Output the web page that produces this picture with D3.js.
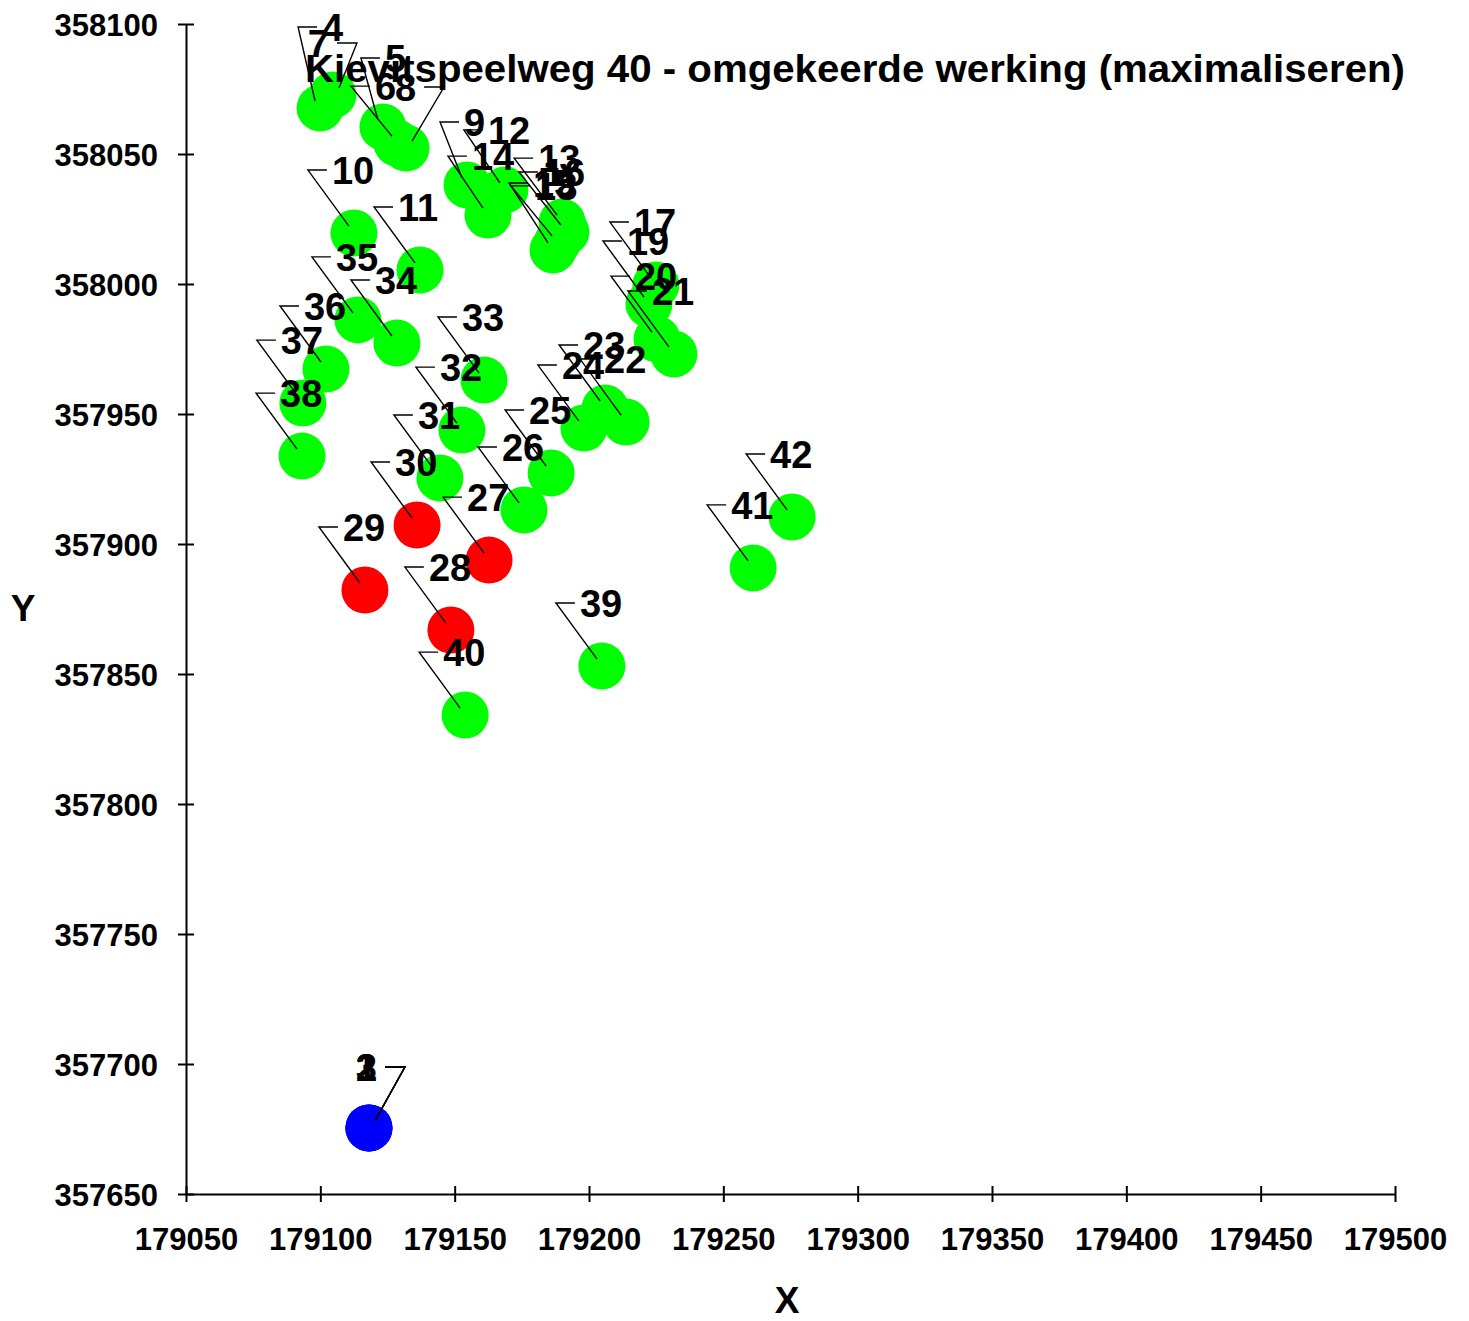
<!DOCTYPE html>
<html>
<head>
<meta charset="utf-8">
<script src="https://cdn.jsdelivr.net/npm/d3@7/dist/d3.min.js"></script>
<style>
  html, body { margin: 0; padding: 0; background: #fff; }
  svg { display: block; }
  text { font-family: "Liberation Sans", Arial, sans-serif; font-weight: bold; fill: #000; }
</style>
</head>
<body>
<svg id="chart" width="1469" height="1321"></svg>
<script>
// ---- data ----
const title = "Kievitspeelweg 40 - omgekeerde werking (maximaliseren)";
const xTicks = [179050, 179100, 179150, 179200, 179250, 179300, 179350, 179400, 179450, 179500];
const yTicks = [357650, 357700, 357750, 357800, 357850, 357900, 357950, 358000, 358050, 358100];
const pointLabels = ["1","2","3","4","5","6","7","8","9","10","11","12","13","14","15","16","17","18","19","20","21",
  "22","23","24","25","26","27","28","29","30","31","32","33","34","35","36","37","38","39","40","41","42"];
const xValues = [179118.1, 179118.1, 179118.1, 179099.9, 179123.3, 179128.5, 179104.7, 179131.9, 179154.6, 179112.5,
  179137.1, 179168.7, 179190.0, 179162.4, 179186.6, 179191.4, 179224.9, 179188.1, 179222.3, 179225.3,
  179231.6, 179213.8, 179206.0, 179198.1, 179185.9, 179175.8, 179162.8, 179148.6, 179116.6, 179136.0,
  179144.5, 179152.7, 179160.9, 179128.5, 179114.0, 179102.1, 179093.5, 179093.2, 179204.8, 179153.9,
  179261.1, 179275.6];
const yValues = [357675.4, 357675.4, 357675.4, 358067.7, 358060.4, 358054.2, 358072.7, 358052.3, 358038.1, 358019.6,
  358005.4, 358036.2, 358023.8, 358026.5, 358013.1, 358020.0, 357999.6, 358015.8, 357992.3, 357978.8,
  357973.1, 357946.9, 357952.3, 357944.6, 357927.3, 357913.1, 357893.8, 357866.9, 357882.3, 357907.3,
  357925.4, 357943.8, 357963.1, 357977.3, 357986.2, 357967.3, 357954.2, 357933.8, 357853.1, 357834.2,
  357890.8, 357910.4];
// category: "bron" (blue), "ok" (green), "over" (red)
const categories = ["bron","bron","bron","ok","ok","ok","ok","ok","ok","ok",
  "ok","ok","ok","ok","ok","ok","ok","ok","ok","ok",
  "ok","ok","ok","ok","ok","ok","over","over","over","over",
  "ok","ok","ok","ok","ok","ok","ok","ok","ok","ok",
  "ok","ok"];

// ---- layout / style ----
const colors = { bron: "#0000ff", ok: "#00ff00", over: "#ff0000" };
const defaultLeader = [-46, -63, "l"];
const leaderOverrides = {
  "1": [36, -61, "r"], "2": [36, -61, "r"], "3": [36, -61, "r"],
  "4": [-22, -81, "l"], "5": [-22, -69, "l"], "6": [-46, -57, "l"],
  "7": [24, -52, "r"], "8": [38, -61, "r"], "9": [-27, -63, "l"],
  "12": [-41, -60, "l"], "14": [-40, -59, "l"], "13": [-48, -64, "l"],
  "16": [-47, -60, "l"], "15": [-44, -67, "l"], "18": [-46, -57, "l"]
};

const svg = d3.select("#chart");
const x = d3.scaleLinear().domain([179050, 179500]).range([186, 1395]);
const y = d3.scaleLinear().domain([357650, 358100]).range([1194, 24]);

const data = pointLabels.map((l, i) => ({ label: l, x: xValues[i], y: yValues[i], cat: categories[i] }));

// axes
const xAxis = svg.append("g").attr("transform", `translate(0,${y(357650)})`)
  .call(d3.axisBottom(x).tickValues(xTicks).tickFormat(d3.format("d")).tickSizeInner(0).tickSizeOuter(0).tickPadding(34));
const yAxis = svg.append("g").attr("transform", `translate(${x(179050)},0)`)
  .call(d3.axisLeft(y).tickValues(yTicks).tickFormat(d3.format("d")).tickSizeInner(0).tickSizeOuter(0).tickPadding(28));
[xAxis, yAxis].forEach(g => {
  g.select(".domain").attr("stroke", "#000").attr("stroke-width", 2);
  g.selectAll("text").style("font-size", "31px").attr("fill", "#000")
    .style("font-family", "'Liberation Sans', Arial, sans-serif").style("font-weight", "bold");
});
xAxis.selectAll(".tick").append("line").attr("y1", -8).attr("y2", 8).attr("stroke", "#000").attr("stroke-width", 2);
yAxis.selectAll(".tick").append("line").attr("x1", -8).attr("x2", 8).attr("stroke", "#000").attr("stroke-width", 2);
yAxis.selectAll("text").attr("dy", "0.36em");
xAxis.selectAll("text").attr("dy", "0.71em");

// points
svg.append("g").selectAll("circle").data(data).join("circle")
  .attr("cx", d => x(d.x)).attr("cy", d => y(d.y)).attr("r", 23.5)
  .attr("fill", d => colors[d.cat]);

// leader lines + labels
const lg = svg.append("g");
const tg = svg.append("g");
data.forEach(d => {
  const cx = x(d.x), cy = y(d.y);
  const [dx, dy, dir] = leaderOverrides[d.label] || defaultLeader;
  const kx = cx + dx, ky = cy + dy;
  const sx = dir === "r" ? cx + 6 : cx - 5, sy = cy - 7;
  const hx = dir === "r" ? kx - 20 : kx + 19;
  lg.append("path")
    .attr("d", `M${sx},${sy}L${kx},${ky}L${hx},${ky}`)
    .attr("fill", "none").attr("stroke", "#000").attr("stroke-width", 1.4);
  tg.append("text")
    .attr("x", dir === "r" ? kx - 28 : kx + 24).attr("y", ky)
    .attr("dy", "0.36em")
    .attr("text-anchor", dir === "r" ? "end" : "start")
    .style("font-size", "38px")
    .text(d.label);
});

// title and axis titles
svg.append("text").attr("x", 305).attr("y", 82).attr("text-anchor", "start")
  .attr("textLength", 1100).attr("lengthAdjust", "spacingAndGlyphs")
  .style("font-size", "38px").text(title);
svg.append("text").attr("x", 787).attr("y", 1313).attr("text-anchor", "middle")
  .style("font-size", "37px").text("X");
svg.append("text").attr("x", 23).attr("y", 621).attr("text-anchor", "middle")
  .style("font-size", "37px").text("Y");
</script>
</body>
</html>
